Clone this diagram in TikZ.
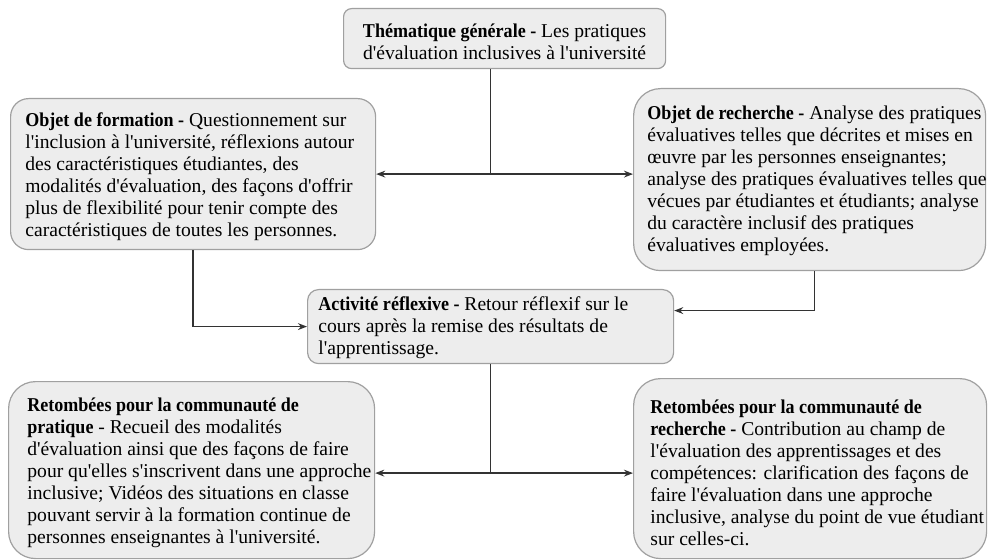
\documentclass[tikz,border=0pt]{standalone}
\usepackage{fontspec}
\newfontfamily\tnr{Liberation Serif}[BoldFeatures={FakeStretch=0.92}]
\usetikzlibrary{arrows.meta,calc}
\definecolor{boxfill}{HTML}{EDEDED}
\definecolor{boxline}{HTML}{A0A0A0}
\definecolor{conn}{HTML}{333333}
\begin{document}
\begin{tikzpicture}[x=0.5pt,y=-0.5pt,
  card/.style={draw=boxline, fill=boxfill, line width=0.6pt, anchor=north west, inner sep=0pt},
  txt/.style={align=left, inner sep=0pt, font=\tnr\fontsize{9.8}{11}\selectfont, text=black},
  link/.style={draw=conn, line width=0.75pt},
  arr/.style={link, -{Stealth[length=4.5pt,width=3.4pt]}}]
\useasboundingbox (0,0) rectangle (988,560);

% boxes
\node[card, rounded corners=4pt,   minimum width=161pt,   minimum height=30pt]   (T)  at (343,8)   {};
\node[card, rounded corners=9pt,   minimum width=182.5pt, minimum height=75.5pt] (L)  at (10,98)   {};
\node[card, rounded corners=13.5pt,minimum width=176pt,   minimum height=91pt]   (R)  at (633,88)  {};
\node[card, rounded corners=5.5pt, minimum width=183pt,   minimum height=37pt]   (M)  at (307,289) {};
\node[card, rounded corners=13.5pt,minimum width=183pt,   minimum height=88.5pt] (BL) at (8,381)   {};
\node[card, rounded corners=13.5pt,minimum width=176.5pt, minimum height=90pt]   (BR) at (633,378) {};

% texts
\node[txt, align=center] (Tt) at ($(T.center)+(0,3)$)
  {\textbf{Thématique générale -} Les pratiques\\d'évaluation inclusives à l'université};
\node[txt, anchor=west] (Lt) at ($(L.west)+(15,3)$)
  {\textbf{Objet de formation -} Questionnement sur\\l'inclusion à l'université, réflexions autour\\des caractéristiques étudiantes, des\\modalités d'évaluation, des façons d'offrir\\plus de flexibilité pour tenir compte des\\caractéristiques de toutes les personnes.};
\node[txt, anchor=west] (Rt) at ($(R.west)+(14,1)$)
  {\textbf{Objet de recherche -} Analyse des pratiques\\évaluatives telles que décrites et mises en\\œuvre par les personnes enseignantes;\\analyse des pratiques évaluatives telles que\\vécues par étudiantes et étudiants; analyse\\du caractère inclusif des pratiques\\évaluatives employées.};
\node[txt, anchor=west] (Mt) at ($(M.west)+(11,1)$)
  {\textbf{Activité réflexive -} Retour réflexif sur le\\cours après la remise des résultats de\\l'apprentissage.};
\node[txt, anchor=west] (BLt) at ($(BL.west)+(19,3)$)
  {\textbf{Retombées pour la communauté de}\\\textbf{pratique} - Recueil des modalités\\d'évaluation ainsi que des façons de faire\\pour qu'elles s'inscrivent dans une approche\\inclusive; Vidéos des situations en classe\\pouvant servir à la formation continue de\\personnes enseignantes à l'université.};
\node[txt, anchor=west] (BRt) at ($(BR.west)+(17,4)$)
  {\textbf{Retombées pour la communauté de}\\\textbf{recherche -} Contribution au champ de\\l'évaluation des apprentissages et des\\compétences: clarification des façons de\\faire l'évaluation dans une approche\\inclusive, analyse du point de vue étudiant\\sur celles-ci.};

% connectors
\coordinate (j1) at (M.north |- L.east);
\draw[link] (T.south -| M.north) -- (j1);
\draw[arr] (j1) -- (L.east);
\draw[arr] (j1) -- (j1 -| R.west);
\draw[arr] (L.south) |- (M.west);
\coordinate (rs) at ($(R.south)+(5,0)$);
\draw[arr] (rs) |- ($(M.east)+(0,-16)$);
\coordinate (j2) at ($(M.south |- BL.east)+(0,3)$);
\draw[link] (M.south) -- (j2);
\draw[arr] (j2) -- (j2 -| BL.east);
\draw[arr] (j2) -- (j2 -| BR.west);
\end{tikzpicture}
\end{document}
